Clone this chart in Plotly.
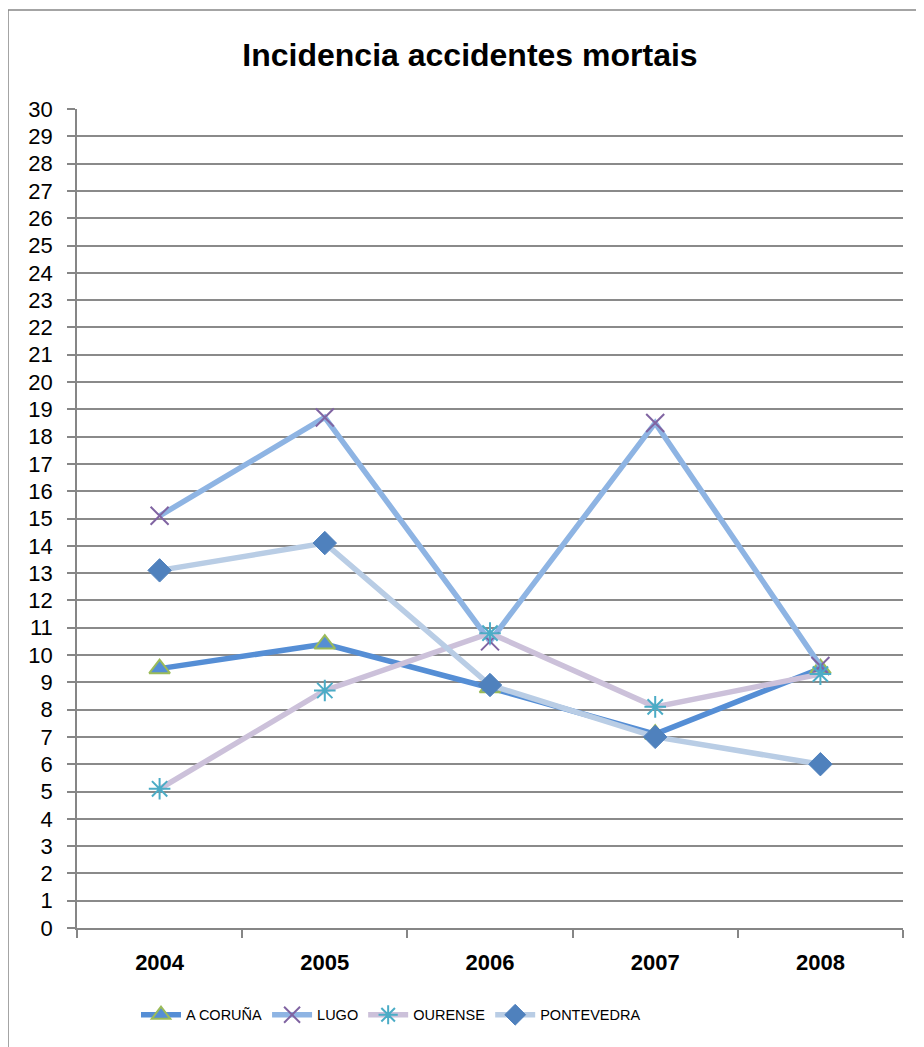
import plotly.graph_objects as go

years = ["2004", "2005", "2006", "2007", "2008"]
a_coruna = [9.5, 10.4, 8.8, 7.1, 9.5]
lugo = [15.1, 18.7, 10.5, 18.5, 9.6]
ourense = [5.1, 8.7, 10.8, 8.1, 9.3]
pontevedra = [13.1, 14.1, 8.9, 7.0, 6.0]
y_ticks = list(range(0, 31))

fig = go.Figure()

fig.add_trace(go.Scatter(
    x=years, y=a_coruna, name="A CORUÑA", mode="lines+markers",
    line=dict(color="#558ED5", width=5.5),
    marker=dict(symbol="triangle-up", size=18, color="#558ED5",
                line=dict(color="#9BBB59", width=2)),
))
fig.add_trace(go.Scatter(
    x=years, y=lugo, name="LUGO", mode="lines+markers",
    line=dict(color="#8EB4E3", width=5.5),
    marker=dict(symbol="x-thin-open", size=18, color="#8064A2",
                line=dict(color="#8064A2", width=2)),
))
fig.add_trace(go.Scatter(
    x=years, y=ourense, name="OURENSE", mode="lines+markers",
    line=dict(color="#CCC1DA", width=5.5),
    marker=dict(symbol="asterisk-open", size=18, color="#4BACC6",
                line=dict(color="#4BACC6", width=2)),
))
fig.add_trace(go.Scatter(
    x=years, y=pontevedra, name="PONTEVEDRA", mode="lines+markers",
    line=dict(color="#B9CDE5", width=5.5),
    marker=dict(symbol="diamond", size=18, color="#4F81BD",
                line=dict(color="#4F81BD", width=1)),
))

# page has 8px body margin; figure placed at (8,8)
W, H = 916, 1039
# plot area in figure pixels: x 69..895, y 101..920
fig.update_layout(
    width=W, height=H,
    margin=dict(l=69, r=W - 895, t=101, b=H - 920),
    paper_bgcolor="white", plot_bgcolor="white",
    font=dict(family="Liberation Sans, Arial, sans-serif", color="black"),
    title=dict(text="<b>Incidencia accidentes mortais</b>",
               x=462 / W, xanchor="center", y=1 - 47 / H, yanchor="middle",
               font=dict(size=32, family="Liberation Sans, Arial, sans-serif", color="black")),
    showlegend=True,
    legend=dict(orientation="h", x=(128 - 69) / 826, xanchor="left", y=-0.106, yanchor="middle",
                font=dict(size=14.5, family="Liberation Sans, Arial, sans-serif"),
                itemwidth=40, bgcolor="rgba(0,0,0,0)", traceorder="normal"),
    xaxis=dict(type="category", showgrid=False, showline=True, linecolor="#868686", linewidth=1.5,
               ticks="outside", tickson="boundaries", ticklen=8, tickcolor="#868686", tickwidth=1.5,
               tickfont=dict(size=22, family="Liberation Sans, Arial, sans-serif", weight="bold"),
               ticklabelstandoff=14, range=[-0.5, 4.5], fixedrange=True),
    yaxis=dict(range=[0, 30], tickvals=y_ticks, ticktext=[str(v) for v in y_ticks],
               showgrid=True, gridcolor="#8a8a8a", gridwidth=1.5,
               showline=True, linecolor="#868686", linewidth=1.5,
               ticks="outside", ticklen=8, tickcolor="#868686", tickwidth=1.5,
               tickfont=dict(size=22), ticklabelstandoff=10, zeroline=False, fixedrange=True),
    shapes=[dict(type="rect", xref="paper", yref="paper",
                 x0=(0 - 69) / 826, x1=1.2, y0=-0.3, y1=(920 - 2) / 819,
                 line=dict(color="#868686", width=1.5), fillcolor="rgba(0,0,0,0)", layer="below")],
)

fig.write_html("out.html")
